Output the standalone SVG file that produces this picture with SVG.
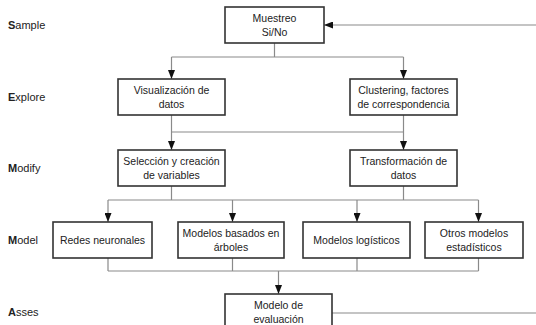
<svg xmlns="http://www.w3.org/2000/svg" width="536" height="325" viewBox="0 0 536 325">
<style>
  .box { fill: #fff; stroke: #333; stroke-width: 1.6; }
  .t { font-family: "Liberation Sans", Arial, sans-serif; font-size: 10.5px; fill: #222; text-anchor: middle; }
  .lbl { font-family: "Liberation Sans", Arial, sans-serif; font-size: 11px; fill: #222; }
  .c { fill: none; stroke: #8a8a8a; stroke-width: 1.2; }
  .ca { fill: none; stroke: #8a8a8a; stroke-width: 1.2; marker-end: url(#ah); }
</style>
<defs>
  <marker id="ah" viewBox="0 0 9 7" refX="9" refY="3.5" markerWidth="9" markerHeight="7" orient="auto" markerUnits="userSpaceOnUse">
    <path d="M0,0 L9,3.5 L0,7 z" fill="#111"/>
  </marker>
</defs>
<rect width="536" height="325" fill="#fff"/>

<g id="stage-labels">
  <text class="lbl" x="8" y="29"><tspan font-weight="bold">S</tspan>ample</text>
  <text class="lbl" x="8" y="101"><tspan font-weight="bold">E</tspan>xplore</text>
  <text class="lbl" x="8" y="172"><tspan font-weight="bold">M</tspan>odify</text>
  <text class="lbl" x="8" y="244"><tspan font-weight="bold">M</tspan>odel</text>
  <text class="lbl" x="8" y="316"><tspan font-weight="bold">A</tspan>sses</text>
</g>

<g id="connectors">
  <path class="c" d="M274.5,43 V57 M171.5,57 H403.5"/>
  <path class="ca" d="M171.5,57 V79"/>
  <path class="ca" d="M403.5,57 V79"/>
  <path class="c" d="M171.5,132 H403.5"/>
  <path class="ca" d="M171.5,115 V150"/>
  <path class="ca" d="M403.5,115 V150"/>
  <path class="c" d="M171.5,186 V200 M403.5,186 V200 M108,200 H478.5"/>
  <path class="ca" d="M108,200 V222"/>
  <path class="ca" d="M232.5,200 V222"/>
  <path class="ca" d="M357,200 V222"/>
  <path class="ca" d="M478.5,200 V222"/>
  <path class="c" d="M108,258 V271 M232.5,258 V271 M357,258 V271 M478.5,258 V271 M108,271 H478.5"/>
  <path class="ca" d="M278.5,271 V294"/>
  <path class="c" d="M332,313 H536"/>
  <path class="ca" d="M536,25 H324"/>
</g>

<g id="muestreo">
  <rect class="box" x="225" y="7" width="99" height="36"/>
  <text class="t" x="274.5" y="22">Muestreo</text>
  <text class="t" x="274.5" y="36">Si/No</text>
</g>
<g id="visualizacion">
  <rect class="box" x="118" y="79" width="107" height="36"/>
  <text class="t" x="171.5" y="94">Visualización de</text>
  <text class="t" x="171.5" y="108">datos</text>
</g>
<g id="clustering">
  <rect class="box" x="350" y="79" width="107" height="36"/>
  <text class="t" x="403.5" y="94">Clustering, factores</text>
  <text class="t" x="403.5" y="108">de correspondencia</text>
</g>
<g id="seleccion">
  <rect class="box" x="118" y="150" width="107" height="36"/>
  <text class="t" x="171.5" y="165">Selección y creación</text>
  <text class="t" x="171.5" y="179">de variables</text>
</g>
<g id="transformacion">
  <rect class="box" x="350" y="150" width="107" height="36"/>
  <text class="t" x="403.5" y="165">Transformación de</text>
  <text class="t" x="403.5" y="179">datos</text>
</g>
<g id="redes">
  <rect class="box" x="53" y="222" width="99" height="36"/>
  <text class="t" x="102.5" y="244">Redes neuronales</text>
</g>
<g id="arboles">
  <rect class="box" x="178" y="222" width="106" height="36"/>
  <text class="t" x="231" y="237">Modelos basados en</text>
  <text class="t" x="231" y="251">árboles</text>
</g>
<g id="logisticos">
  <rect class="box" x="303" y="222" width="107" height="36"/>
  <text class="t" x="356.5" y="244">Modelos logísticos</text>
</g>
<g id="otros">
  <rect class="box" x="425" y="222" width="98" height="36"/>
  <text class="t" x="474" y="237">Otros modelos</text>
  <text class="t" x="474" y="251">estadísticos</text>
</g>
<g id="evaluacion">
  <rect class="box" x="225" y="294" width="107" height="40"/>
  <text class="t" x="278.5" y="309">Modelo de</text>
  <text class="t" x="278.5" y="323">evaluación</text>
</g>
</svg>
